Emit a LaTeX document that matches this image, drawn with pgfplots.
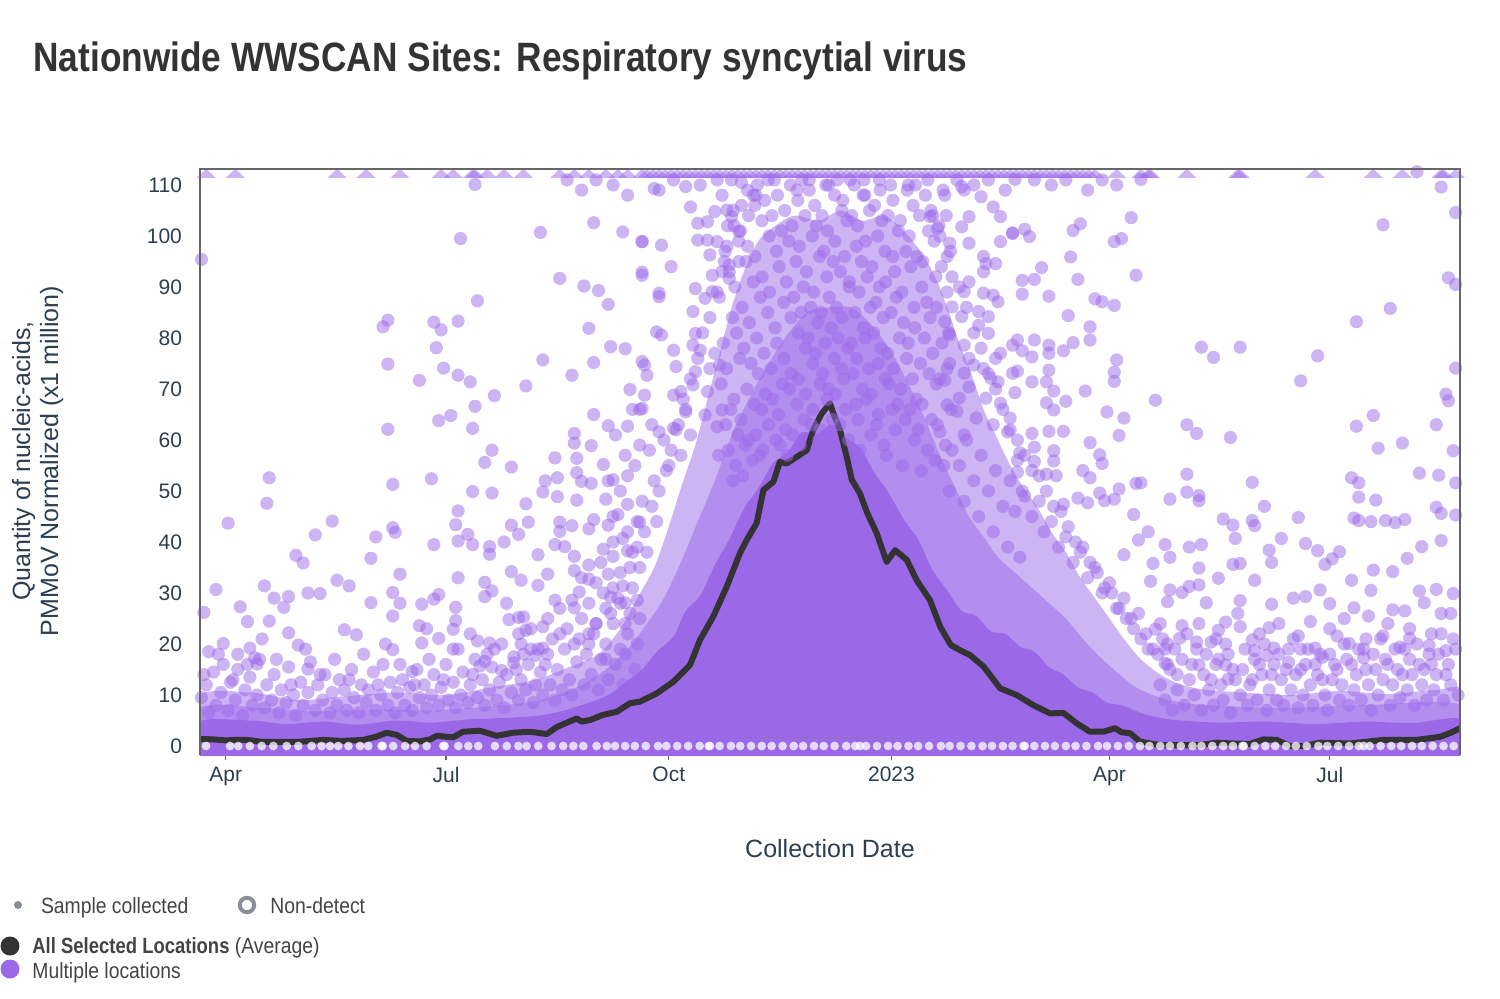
\documentclass[border=0pt]{standalone}
\usepackage{pgfplots}
\pgfplotsset{compat=1.18}
\usepackage{fontspec}
\setmainfont{Liberation Sans}
\newfontfamily\titlefont{Liberation Sans}[FakeStretch=0.86]
\newfontfamily\legfont{Liberation Sans}[FakeStretch=0.88]
\newfontfamily\legbfont{Liberation Sans}[FakeStretch=0.84]
\definecolor{purp}{RGB}{155,105,232}
\definecolor{navy}{RGB}{44,62,80}
\definecolor{ttl}{RGB}{51,51,51}
\definecolor{legc}{RGB}{68,68,68}
\definecolor{framec}{RGB}{102,102,102}
\definecolor{ringc}{RGB}{136,142,152}
\pgfplotsset{pt/.style={only marks, mark=*, mark size=3.3pt, mark options={fill=purp, fill opacity=0.5, draw opacity=0}}}
\begin{document}
\begin{tikzpicture}
\useasboundingbox (0,0) rectangle (750pt,499pt);
\begin{axis}[
  at={(100pt,121.5pt)}, anchor=south west,
  scale only axis, width=630pt, height=293pt,
  xmin=-10.6, xmax=509.8, ymin=-1.76, ymax=113.14,
  axis line style={draw=none},
  xtick={0,91,183,275,365,456},
  xticklabels={Apr,Jul,Oct,2023,Apr,Jul},
  ytick={0,10,20,30,40,50,60,70,80,90,100,110},
  xtick pos=bottom, ytick pos=left,
  tick align=outside, major tick length=2.5pt,
  x tick style={draw=framec, line width=0.7pt},
  y tick style={draw=none},
  ticklabel style={font=\fontsize{10.5}{12}\selectfont, text=navy},
  /pgf/number format/assume math mode=true,
  yticklabel style={xshift=-3pt},
  clip=true,
]
% dense envelopes of overlapping samples
\addplot[smooth, draw=none, fill=purp, fill opacity=0.5] coordinates {(-12,-5)(-12,9.5)(10,10.5)(30,9)(50,9.8)(70,10.5)(90,10)(110,11.5)(128,13)(142,15.5)(154,18)(163,23)(170,29)(177,35)(183,43)(189,52)(194,59)(199,68)(204,77)(209,86)(214,93)(220,99)(227,102)(235,104)(245,103)(254,105)(263,103)(272,104)(280,101)(287,97)(293,92)(298,86)(303,79)(308,73)(313,66)(318,61)(323,56)(329,51)(335,47)(341,42)(347,38)(353,33)(359,29)(365,25)(371,21)(378,17)(386,14)(395,12)(405,11)(420,10.5)(440,10)(460,10.8)(480,10.2)(500,11)(512,10.5)(512,-5)};
\addplot[smooth, draw=none, fill=purp, fill opacity=0.5] coordinates {(-12,-5)(-12,7.2)(15,7.5)(35,6.8)(60,7.2)(85,7)(110,7.8)(130,9)(145,11.5)(157,15)(166,19)(174,24)(181,29)(188,36)(195,44)(202,52)(209,61)(216,68)(223,74)(231,80)(240,85)(249,86)(258,86)(266,83)(274,78)(281,72)(288,65)(295,57)(301,51)(307,45)(313,41)(319,37)(326,34)(333,31)(340,28)(347,25)(354,21)(361,17.5)(368,14.5)(376,11.5)(386,9.5)(398,8.3)(415,7.8)(440,7.5)(470,8)(512,7.8)(512,-5)};
\addplot[smooth, draw=none, fill=purp] coordinates {(-12,-5)(-12,4.5)(10,5)(25,4.3)(40,4.8)(55,4.2)(70,5)(85,4.6)(100,5.2)(115,5.5)(130,6)(140,7)(150,8.5)(158,10)(165,12.5)(172,15)(178,18.5)(185,21.5)(190,26.5)(196,29.5)(202,35.5)(208,40.5)(214,46.5)(220,50.5)(226,55.5)(232,57.5)(238,61.5)(244,61)(250,63)(256,60.5)(262,58.5)(268,53.5)(274,49.5)(280,44.5)(286,40.5)(292,34.5)(298,30.5)(304,26.5)(310,25.5)(316,22.5)(322,22)(328,19.5)(334,18.5)(340,15.5)(346,14)(352,11.5)(358,10.5)(364,8.5)(370,8)(378,6.5)(386,5.5)(395,5)(410,4.6)(430,4.8)(450,4.3)(470,4.8)(490,4.5)(512,5)(512,-5)};
% non-detects
\addplot[only marks, mark=*, mark size=2.2pt, mark options={fill=white, fill opacity=0.75, draw opacity=0}] coordinates {(-8.1,0)(1.8,0)(5.2,0)(10,0)(14.9,0)(19.7,0)(25.2,0)(30,0)(35.5,0)(39.6,0)(43.1,0)(46.5,0)(50.7,0)(55.5,0)(58.9,0)(64.4,0)(64.9,0)(69.2,0)(74.1,0)(78.2,0)(83,0)(89.9,0)(90.4,0)(96.1,0)(100.2,0)(104.3,0)(111.2,0)(116.1,0)(120.9,0)(124.3,0)(129.1,0)(134.6,0)(139.4,0)(143.6,0)(147.7,0)(153.2,0)(157.4,0)(160.8,0)(165,0)(169,0)(173.5,0)(178.6,0)(182,0)(186.5,0)(191,0)(195.8,0)(199.5,0)(200,0)(204,0)(208.7,0)(212.5,0)(217,0)(221.4,0)(225.5,0)(230,0)(234.6,0)(238.5,0)(243,0)(247,0)(251.5,0)(256.3,0)(260,0)(262,0)(264.5,0)(269,0)(273.6,0)(277.5,0)(282,0)(286,0)(290.5,0)(295.4,0)(299,0)(303.5,0)(308,0)(312.6,0)(316.5,0)(321,0)(325,0)(329.5,0)(330,0)(334,0)(338.4,0)(342.5,0)(347,0)(351,0)(355.5,0)(360.3,0)(364,0)(368.5,0)(373,0)(377.6,0)(381.5,0)(386,0)(390,0)(394.5,0)(399.3,0)(403,0)(407.5,0)(412,0)(416,0)(420,0)(420.5,0)(425,0)(429.4,0)(433.5,0)(438,0)(442,0)(446.5,0)(451.3,0)(455,0)(459.5,0)(464,0)(468,0)(470,0)(472.5,0)(477,0)(481.4,0)(485.5,0)(490,0)(494,0)(498.5,0)(503,0)(507.2,0)};
% samples, 2022 spring-summer
\addplot[pt] coordinates {(-10,95.4)(103,110.1)(97,99.5)(130,100.7)(152,102.6)(164,100.8)(172,98.9)(138,91.7)(148,90.2)(154,89.3)(158,86.6)(104,87.3)(172,92.9)(67,83.5)(65,82.2)(86,83.1)(89,81.6)(96,83.3)(87,78.1)(150,81.9)(159,78.3)(165,77.9)(131,75.7)(152,75.2)(67,74.9)(80,71.7)(90,74.1)(96,72.7)(101,71.4)(111,68.7)(124,70.6)(143,72.7)(167,69.9)(172,75.4)(103,66.6)(93,64.8)(88,63.8)(102,62.3)(67,62.1)(152,65.0)(158,62.8)(166,62.7)(171,66.0)(144,61.3)(144,59.4)(151,58.9)(136,56.5)(145,56.4)(156,55.2)(110,58.0)(107,55.6)(118,54.7)(18,52.6)(17,47.6)(1,43.7)(69,51.3)(85,52.4)(102,49.9)(110,49.6)(132,52.0)(137,52.6)(145,53.6)(147,51.9)(151,51.5)(160,52.2)(166,53.0)(131,49.8)(137,48.9)(145,48.2)(157,48.4)(124,47.5)(96,46.1)(95,43.4)(44,44.1)(37,41.4)(29,37.4)(32,35.9)(62,41.0)(60,36.8)(69,42.8)(70,41.9)(86,39.5)(96,40.2)(100,41.5)(102,39.5)(109,39.1)(109,37.6)(115,40.0)(118,43.3)(121,41.5)(125,43.9)(129,37.5)(136,39.5)(138,43.9)(138,42.1)(143,43.2)(150,42.6)(152,44.4)(158,43.3)(164,40.7)(162,45.4)(166,47.4)(171,43.9)(140,39.1)(144,37.2)(144,34.4)(150,35.5)(156,38.6)(160,37.2)(166,38.3)(-4,30.7)(-9,26.2)(16,31.4)(20,29.0)(24,27.2)(26,29.3)(34,30.0)(39,29.9)(46,32.5)(51,31.4)(6,27.3)(9,24.4)(18,24.5)(26,22.2)(30,19.8)(49,22.8)(54,21.8)(60,28.1)(69,30.1)(72,33.7)(72,28.0)(69,25.5)(81,27.8)(86,28.8)(88,29.7)(95,27.2)(96,33.0)(107,32.1)(107,29.3)(110,30.4)(116,28.0)(118,34.2)(122,32.5)(129,31.5)(133,33.7)(136,28.6)(143,28.6)(146,30.2)(150,32.7)(153,32.0)(159,29.2)(165,28.1)(170,28.6)(158,33.7)(164,31.4)(144,27.1)(-7,18.5)(-1,20.1)(5,18.0)(10,19.2)(13,16.1)(12,17.3)(34,15.1)(69,18.9)(77,14.6)(81,20.2)(83,23.0)(80,23.6)(88,21.1)(94,22.9)(95,24.6)(94,19.0)(101,22.0)(104,20.6)(109,20.2)(111,19.0)(117,24.8)(121,25.2)(123,25.3)(121,22.0)(124,22.7)(131,23.4)(128,17.8)(131,19.2)(107,16.6)(105,15.7)(114,14.8)(119,16.3)(123,18.0)};
% samples, 2023 spring-summer
\addplot[pt] coordinates {(326,111.1)(378,111.1)(492,112.6)(502,109.6)(508,104.6)(325,100.6)(330,101.3)(332,99.9)(350,101.1)(353,102.4)(374,103.6)(367,98.9)(370,99.5)(478,102.2)(349,95.9)(337,93.8)(329,91.3)(334,91.5)(329,88.6)(340,88.2)(352,91.5)(376,92.3)(359,87.7)(362,87.1)(367,86.4)(348,84.4)(357,82.2)(357,79.6)(505,91.8)(508,90.5)(481,85.8)(467,83.2)(327,79.6)(334,79.6)(340,78.6)(346,77.5)(350,79.1)(329,77.5)(333,76.3)(340,77.0)(403,78.2)(408,76.2)(419,78.2)(451,76.5)(444,71.6)(508,74.1)(368,75.7)(367,73.3)(367,71.5)(327,73.5)(340,73.7)(326,69.3)(333,71.4)(339,71.4)(342,69.6)(355,69.6)(347,67.6)(339,67.3)(342,65.9)(384,67.8)(364,65.5)(371,64.3)(369,60.9)(357,59.5)(361,57.1)(362,55.4)(354,54.0)(357,52.6)(346,61.7)(340,61.7)(333,61.3)(334,58.6)(328,57.5)(342,57.9)(342,55.9)(334,55.8)(327,53.7)(339,53.3)(343,53.0)(397,63.0)(401,61.3)(415,60.5)(504,69.0)(505,67.7)(500,63.0)(467,62.7)(474,64.8)(476,58.4)(486,59.4)(507,57.9)(493,53.5)(501,53.1)(508,51.6)(465,52.6)(468,51.6)(468,48.8)(475,48.2)(397,53.3)(397,49.8)(402,49.1)(402,48.1)(390,48.4)(424,51.7)(429,47.0)(376,51.5)(378,51.6)(369,50.4)(361,49.6)(352,48.6)(356,47.7)(363,48.1)(367,48.4)(346,47.4)(412,44.5)(416,43.3)(424,44.2)(425,43.2)(417,40.7)(443,44.8)(466,44.7)(468,44.2)(473,44.0)(479,44.2)(483,43.8)(487,44.4)(500,46.8)(502,45.6)(508,45.3)(502,40.3)(494,39.1)(488,36.8)(482,34.2)(474,34.5)(465,32.5)(473,30.5)(460,38.1)(457,36.7)(454,35.6)(451,38.3)(446,39.7)(436,40.7)(431,38.4)(432,36.0)(419,35.8)(416,35.6)(410,32.9)(402,34.9)(403,39.5)(398,39.0)(388,39.5)(390,37.0)(383,35.8)(381,42.0)(377,40.4)(375,45.4)(371,37.5)(382,32.3)(390,30.6)(389,28.3)(395,30.1)(398,31.3)(402,31.6)(405,28.1)(425,32.5)(419,28.5)(413,24.3)(419,23.4)(432,27.8)(441,29.0)(446,29.3)(452,30.6)(456,27.9)(466,27.1)(472,25.5)(482,26.7)(487,26.5)(493,30.4)(500,30.7)(507,29.9)(495,28.1)(502,26.0)(448,24.4)(443,21.6)(431,23.2)(424,20.8)(425,18.7)(430,17.8)(433,19.2)(439,16.4)(450,19.2)(453,17.4)(459,21.6)(464,20.1)(470,17.3)(478,21.6)(485,19.4)(489,21.1)(497,19.7)(504,18.7)(410,22.7)(407,20.4)(401,20.4)(402,15.9)(395,23.6)(394,21.1)(388,19.0)(388,16.2)(413,15.9)(414,13.1)(384,22.9)};
% samples, season flanks
\addplot[pt] coordinates {(179,109.0)(177,109.3)(190,109.7)(192,105.7)(172,98.9)(180,98.2)(184,94.0)(172,92.3)(179,88.1)(179,88.8)(193,85.2)(194,89.7)(198,87.8)(201,89.1)(201,92.3)(200,96.3)(195,99.2)(199,99.2)(203,98.9)(195,102.5)(199,102.8)(202,104.8)(178,81.2)(180,80.6)(194,80.9)(193,78.6)(196,77.6)(185,77.6)(186,74.4)(173,74.7)(174,72.7)(194,73.4)(200,74.0)(202,77.0)(204,74.7)(188,69.5)(185,68.8)(173,68.8)(193,70.8)(199,69.5)(172,66.2)(190,65.5)(179,61.6)(185,62.3)(198,64.9)(205,65.9)(203,62.6)(208,94.3)(208,91.7)(206,95.0)(212,95.0)(207,105.1)(209,103.8)(212,100.9)
(304,109.7)(305,109.0)(312,107.7)(317,105.7)(320,103.8)(325,100.5)(307,103.8)(304,101.8)(294,101.5)(291,103.8)(307,98.6)(299,98.6)(320,98.9)(313,96.0)(318,94.6)(314,94.6)(313,93.0)(307,91.0)(305,89.1)(317,88.4)(319,87.1)(313,88.8)(300,86.1)(304,84.2)(311,85.2)(315,84.2)(311,82.5)(315,80.9)(325,78.6)(320,77.0)(318,76.0)(299,80.6)(297,83.2)(305,78.6)(307,76.0)(313,74.0)(309,74.7)(325,73.1)(319,71.4)(316,72.1)(305,73.1)(299,75.0)(297,71.7)(307,70.4)(320,67.2)(314,68.2)(303,68.2)(302,65.6)(310,64.3)(317,63.0)(324,64.3)(323,61.6)(298,66.9)(295,61.6)(305,61.0)
(160,45)(163,50)(166,42)(169,55)(172,48)(175,58)(174,38)(177,52)(178,44)(181,60)(183,55)(186,62)(188,57)(190,66)(192,61)(176,63)(171,59)(165,57)(158,52)(161,61)(168,66)
(300,58)(303,55)(306,60)(309,52)(312,57)(315,50)(318,54)(321,47)(324,52)(327,56)(330,49)(305,48)(311,45)(317,42)(323,39)(328,37)
(326,46)(329,50)(333,45)(336,48)(338,42)(341,44)(344,39)(347,41)(350,36)(353,38)(356,33)(359,35)(362,30)(365,32)(368,27)(371,29)(374,25)(377,26)(380,22)(383,19)(386,24)(389,20)
(141,111)(147,109)(153,111)(160,110)(166,108)(185,111)(196,110)(203,111)(213,110.5)(219,108)(224,111)(236,109)(241,111)(249,110)(258,111)(264,108)(270,111)(282,110)(290,111)(297,108)(302,111)(309,110)(315,111)(322,109)(334,111)(341,110)(347,111)(356,109)(362,111)(368,110)
(150,20)(153,24)(157,27)(160,31)(163,28)(167,35)(170,39)(173,42)(176,47)(179,50)(182,54)(184,58)(187,63)(189,68)(192,72)(195,76)(197,81)(200,84)(203,89)(205,93)(207,98)(210,102)(213,106)(216,104)(218,108)
(292,104)(295,100)(298,96)(300,92)(303,90)(306,86)(309,81)(312,78)(315,73)(318,70)(321,66)(324,62)(327,60)(330,57)(333,54)(336,53)(339,50)(342,47)(345,46)(348,43)(351,40)(354,39)(357,36)(360,34)(363,31)(366,30)(369,27)(372,25)(375,23)(378,21)(381,19)(385,18)(389,16)(393,14)};
% samples, season peak
\addplot[pt] coordinates {(205,108)(206.3,97)(203.9,88)(205.6,79)(204.6,71)(206.5,63)(203.6,57)
(208.9,111)(207.3,102)(208,93)(209.3,84)(206.9,74)(208.6,66)(207.6,58)(209.5,52)
(209.6,105)(211.9,99)(210.3,90)(211,81)(212.3,76)(209.9,68)(211.6,61)(210.6,55)
(215.5,109)(212.6,101)(214.9,95)(213.3,86)(214,78)(215.3,70)(212.9,64)(214.6,59)(213.6,53)
(218.5,106)(215.6,98)(217.9,91)(216.3,83)(217,75)(218.3,67)(215.9,60)(217.6,56)
(219.6,110)(221.5,103)(218.6,96)(220.9,88)(219.3,80)(220,73)(221.3,66)(218.9,61)(220.6,57)
(222.6,107)(224.5,100)(221.6,92)(223.9,85)(222.3,77)(223,69)(224.3,63)(221.9,58)
(226.6,111)(225.6,104)(227.5,97)(224.6,89)(226.9,82)(225.3,74)(226,68)(227.3,60)
(227.9,108)(229.6,101)(228.6,94)(230.5,87)(227.6,79)(229.9,71)(228.3,65)(229,59)
(233.3,110)(230.9,105)(232.6,99)(231.6,91)(233.5,84)(230.6,76)(232.9,70)(231.3,62)(232,57)
(236.3,107)(233.9,102)(235.6,95)(234.6,88)(236.5,81)(233.6,73)(235.9,67)(234.3,61)
(238,111)(239.3,104)(236.9,98)(238.6,90)(237.6,85)(239.5,78)(236.6,72)(238.9,64)(237.3,59)
(241,109)(242.3,100)(239.9,93)(241.6,86)(240.6,80)(242.5,75)(239.6,69)(241.9,63)
(243.3,106)(244,102)(245.3,96)(242.9,89)(244.6,83)(243.6,77)(245.5,71)(242.6,66)(244.9,60)
(247.9,110)(246.3,104)(247,97)(248.3,92)(245.9,85)(247.6,79)(246.6,73)(248.5,68)(245.6,62)
(251.5,108)(248.6,101)(250.9,95)(249.3,88)(250,82)(251.3,76)(248.9,70)(250.6,64)
(252.6,111)(254.5,105)(251.6,99)(253.9,93)(252.3,86)(253,80)(254.3,74)(251.9,69)(253.6,63)
(254.9,107)(256.6,103)(255.6,96)(257.5,90)(254.6,84)(256.9,78)(255.3,72)(256,66)(257.3,60)
(259.6,110)(258.6,104)(260.5,98)(257.6,91)(259.9,85)(258.3,79)(259,73)(260.3,67)
(263.3,108)(260.9,102)(262.6,95)(261.6,89)(263.5,82)(260.6,76)(262.9,70)(261.3,64)(262,58)
(263.6,111)(265.9,105)(264.3,99)(265,92)(266.3,86)(263.9,80)(265.6,74)(264.6,68)(266.5,61)
(268,106)(269.3,100)(266.9,94)(268.6,87)(267.6,81)(269.5,75)(266.6,69)(268.9,63)
(270.3,109)(271,103)(272.3,97)(269.9,90)(271.6,84)(270.6,78)(272.5,72)(269.6,65)(271.9,59)
(274.6,110)(273.6,104)(275.5,96)(272.6,91)(274.9,85)(273.3,77)(274,71)(275.3,66)(272.9,57)
(275.6,107)(277.9,101)(276.3,93)(277,88)(278.3,80)(275.9,74)(277.6,67)(276.6,62)
(281.5,109)(278.6,103)(280.9,97)(279.3,89)(280,83)(281.3,76)(278.9,70)(280.6,64)(279.6,55)
(283.9,106)(282.3,100)(283,94)(284.3,86)(281.9,79)(283.6,72)(282.6,66)(284.5,60)
(284.9,110)(286.6,104)(285.6,96)(287.5,90)(284.6,82)(286.9,75)(285.3,68)(286,62)(287.3,54)
(289,108)(290.3,101)(287.9,95)(289.6,87)(288.6,80)(290.5,73)(287.6,67)(289.9,58)
(291.3,105)(292.6,99)(293.3,92)(290.9,84)(292,77)(293.5,71)(291.6,64)(292.9,56)
(296.3,109)(294.6,102)(295.6,94)(293.6,86)(295.9,79)(295,72)(293.9,63)(296.5,55)
(297.6,104)(299.3,97)(297.9,89)(298.6,81)(298,74)(299.5,66)(297.3,59)(298.9,50)};
% samples, low values
\addplot[pt] coordinates {(-10,9.5)(-8,12)(-7,6.5)(-5,14.5)(-4,8)(-2,10.5)(-1,16)(1,7)(2,12.5)(4,9)(5,15)(7,6)(8,11)(10,13.5)(11,8)(13,10)(14,17)(16,7.5)(17,12)(19,9)(20,14)(22,6.5)(23,11)(25,8.5)(26,15.5)(28,10)(29,6)(31,12.5)(32,8)(34,10.5)(35,16.5)(37,7)(38,12)(40,9)(41,14)(43,6.5)(44,10.5)(46,8)(47,13)(49,11)(50,7)(52,15)(53,9.5)(55,6.5)(56,12)(58,8.5)(59,11)(61,14.5)(62,7)(64,10)(65,16)(67,8)(68,12.5)(70,6.5)(71,10.5)(73,13)(74,8)(76,11.5)(77,7)(79,15)(80,9.5)(82,12)(83,7.5)(85,10)(86,14)(88,8)(89,11.5)(91,16)(92,9)(94,12.5)(95,7.5)(97,10)(98,14.5)(100,8.5)(101,12)(103,17)(104,9.5)(106,13)(107,8)(109,11)(110,15.5)(112,9)(113,12.5)(115,7.5)(116,14)(118,10.5)(119,17.5)(121,9)(122,13)(124,11)(125,16)(127,8.5)(128,12)(130,14.5)(131,10)(133,18)(134,12)(136,9)(137,15)(139,11)(140,19)(142,13)(143,10)(145,16.5)(146,21)(148,12)(149,18)(151,14)(152,22)(154,11)(155,17)(157,20)(158,13)(160,24)(161,16)(163,19)(164,12)(166,22)(167,26)(169,15)(170,20)(171,25)
(122,20)(126,23)(129,19)(133,25)(135,21)(138,27)(141,23)(144,20)(147,25)(150,28)(153,24)(156,30)(159,26)(162,29)(165,24)(168,31)(171,35)(147,33)(155,36)(160,40)(163,34)(168,38)(170,44)(150,22)(157,17)(165,18)
(-9,14)(-3,18)(3,13)(9,16)(15,21)(21,17)(27,12)(33,19)(39,14)(45,17)(51,13)(57,18)(63,12)(66,20)(72,16)(78,12)(84,17)(90,13)(96,19)(102,14)(108,18)(114,20)(120,15)(126,19)(132,16)(138,22)
(386,12)(388,9)(390,15)(391,7)(393,11)(395,17)(396,8)(398,13)(400,10)(401,19)(403,7)(404,14)(406,11)(408,8)(409,16)(411,12)(412,9)(414,18)(415,6.5)(417,13)(419,10)(420,15)(422,8)(423,12)(425,17)(426,9)(428,14)(430,7)(431,11)(433,16)(434,9)(436,13)(437,8)(439,19)(440,11)(442,14)(443,7.5)(445,10)(446,16)(448,12)(449,8)(451,14)(452,18)(454,10)(455,7)(457,13)(458,16)(460,9)(461,12)(463,17)(464,8)(466,11)(467,14)(469,9)(470,19)(472,12)(473,7)(475,15)(476,10)(478,13)(479,17)(481,8)(482,12)(484,15)(485,9.5)(487,19)(488,11)(490,14)(491,8)(493,16)(494,12)(496,9)(497,18)(499,11)(500,14)(502,22)(503,9)(505,16)(506,12)(508,19)(509,10)
(402,24)(409,21)(418,26)(427,22)(435,24)(444,19)(456,23)(462,25)(471,21)(480,24)(489,23)(498,22)(506,26)
(387,21)(392,19)(397,22)(399,16)(405,18)(407,13)(410,17)(413,20)(416,15)(421,19)(424,13)(427,16)(429,20)(432,14)(435,18)(438,15)(441,21)(444,15)(447,19)(450,16)(453,13)(456,18)(459,15)(462,20)(465,16)(468,19)(471,15)(474,18)(477,21)(480,16)(483,19)(486,14)(489,17)(492,20)(495,15)(498,16)(501,18)(504,14)(507,21)};
% above-range samples
\addplot[only marks, mark=triangle*, mark size=5.5pt, mark options={fill=purp, fill opacity=0.5, draw opacity=0, yscale=0.55}] coordinates {(-8,112)(4,112)(46,112)(58,112)(72,112)(89,112)(94,112)(102,112)(103,112)(108,112)(115,112)(123,112)(138,112)(144,112)(150,112)(157,112)(162,112)(166,112)(172,112)(174,112)(176.5,112)(179,112)(181.5,112)(184,112)(186.5,112)(189,112)(191.5,112)(194,112)(196.5,112)(199,112)(201.5,112)(204,112)(206.5,112)(209,112)(211.5,112)(214,112)(216.5,112)(219,112)(221.5,112)(224,112)(226.5,112)(229,112)(231.5,112)(234,112)(236.5,112)(239,112)(241.5,112)(244,112)(246.5,112)(249,112)(251.5,112)(254,112)(256.5,112)(259,112)(261.5,112)(264,112)(266.5,112)(269,112)(271.5,112)(274,112)(276.5,112)(279,112)(281.5,112)(284,112)(286.5,112)(289,112)(291.5,112)(294,112)(296.5,112)(299,112)(301.5,112)(304,112)(306.5,112)(309,112)(311.5,112)(314,112)(316.5,112)(319,112)(321.5,112)(324,112)(326.5,112)(329,112)(331.5,112)(334,112)(336.5,112)(339,112)(341.5,112)(344,112)(346.5,112)(349,112)(351.5,112)(354,112)(356.5,112)(359,112)(368,112)(378,112)(381,112)(382,112)(397,112)(418,112)(419,112)(450,112)(474,112)(486,112)(502,112)(503,112)(508,112)};
\addplot[draw=gray, densely dotted, line width=0.6pt] coordinates {(219,1.6)(276,1.6)};
% average
\addplot[draw=ttl, line width=3pt, line join=round, line cap=round] coordinates {(-10.6,1.4)(-5,1.3)(0,1.1)(4,1.2)(8.7,1.2)(12,1.0)(15.4,0.8)(22,0.8)(29.3,0.8)(35,1.0)(40.2,1.2)(48,1.0)(56.7,1.2)(62,1.8)(66.5,2.6)(70.6,2.2)(74.8,1.0)(80,0.9)(84.4,1.3)(87.2,2.0)(93.9,1.7)(98,2.8)(105,3.0)(111.9,2.0)(118.7,2.6)(125.7,2.8)(132.6,2.35)(136.7,3.7)(141,4.6)(145,5.4)(147,4.8)(150.5,5.1)(155.8,6.1)(161.5,6.7)(167,8.4)(171.1,8.7)(178,10.3)(184.9,12.6)(191.8,15.9)(195.9,20.8)(201.4,25.4)(206.9,31.2)(212.4,37.8)(215.2,40.4)(219.3,43.7)(222.1,50.2)(226.2,51.8)(228.9,55.7)(231.7,55.4)(237.2,57.1)(240,58.0)(242.7,62.0)(246.2,65.2)(249.6,67.2)(251,65.2)(253.7,62.0)(256.5,56.7)(258.6,52.2)(262,49.5)(264.8,45.9)(268.9,41.7)(273,36.1)(276.5,38.4)(281.3,36.5)(285.4,32.5)(290.9,28.6)(295.1,23.4)(299.5,19.8)(303.3,18.8)(307.5,17.8)(313,15.6)(319.9,11.3)(326.7,10.0)(333.6,8.0)(340.5,6.4)(346,6.5)(351.5,4.45)(357,2.8)(362.5,2.8)(367.3,3.5)(370,2.7)(373.6,2.5)(377.7,0.85)(385.9,0.2)(402.5,0.2)(409.3,0.65)(416,0.5)(423.1,0.4)(428.6,1.3)(434.1,1.2)(439.6,0.0)(445.1,0.0)(452,0.65)(464.4,0.5)(478.1,1.2)(491.9,1.2)(501.5,1.8)(506,2.6)(509.8,3.5)};
\end{axis}
% frame (left, top, right)
\draw[framec, line width=1pt] (100pt,121.5pt) -- (100pt,414.5pt) -- (730pt,414.5pt) -- (730pt,121.5pt);
% title
\node[anchor=base west, inner sep=0pt, text=ttl, font=\titlefont\bfseries\fontsize{20.5}{24}\selectfont] at (16.5pt,463pt) {Nationwide WWSCAN Sites: Respiratory syncytial virus};
% axis titles
\node[anchor=base, inner sep=0pt, text=navy, font=\fontsize{12.5}{14}\selectfont] at (415pt,70.5pt) {Collection Date};
\node[rotate=90, anchor=base, inner sep=0pt, text=navy, font=\fontsize{12.5}{14}\selectfont] at (15pt,268.5pt) {Quantity of nucleic-acids,};
\node[rotate=90, anchor=base, inner sep=0pt, text=navy, font=\fontsize{12.5}{14}\selectfont] at (29pt,268.5pt) {PMMoV Normalized (x1 million)};
% legend
\fill[ringc] (9pt,46.5pt) circle (2pt);
\node[anchor=base west, inner sep=0pt, text=legc, font=\legfont\fontsize{11}{13}\selectfont] at (20.3pt,42.5pt) {Sample collected};
\draw[ringc, line width=2pt] (123.5pt,46.5pt) circle (3.6pt);
\node[anchor=base west, inner sep=0pt, text=legc, font=\legfont\fontsize{11}{13}\selectfont] at (135pt,42.5pt) {Non-detect};
\fill[ttl] (5pt,26pt) circle (4.75pt);
\node[anchor=base west, inner sep=0pt, text=legc, font=\legfont\fontsize{11}{13}\selectfont] at (16pt,22.3pt) {{\legbfont\bfseries All Selected Locations} (Average)};
\fill[purp] (5pt,14.5pt) circle (4.75pt);
\node[anchor=base west, inner sep=0pt, text=legc, font=\legfont\fontsize{11}{13}\selectfont] at (16pt,9.7pt) {Multiple locations};
\end{tikzpicture}
\end{document}
